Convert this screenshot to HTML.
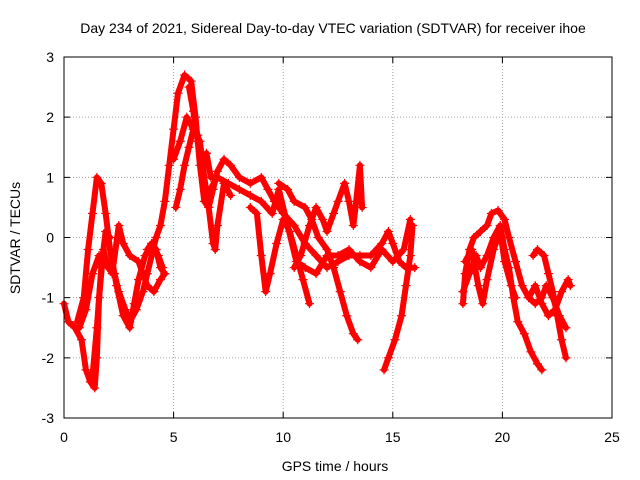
<!DOCTYPE html>
<html><head><meta charset="utf-8"><style>
body{margin:0;background:#fff}
svg{display:block;font-family:"Liberation Sans",sans-serif}
</style></head><body>
<svg id="chart" width="640" height="480" viewBox="0 0 640 480">
<text x="333" y="33" font-size="14" text-anchor="middle">Day 234 of 2021, Sidereal Day-to-day VTEC variation (SDTVAR) for receiver ihoe</text>
<g id="grid"></g>
<g id="axes"></g>
<g id="marks"></g>
<rect x="64" y="57" width="548" height="361" fill="none" stroke="#000" stroke-width="1"/>
<text x="335" y="471" font-size="14" text-anchor="middle">GPS time / hours</text>
<text transform="translate(20,238) rotate(-90)" font-size="14" text-anchor="middle">SDTVAR / TECUs</text>
</svg>
<script>
const xTicks=[0,5,10,15,20,25];
const yTicks=[-3,-2,-1,0,1,2,3];
const track1=[[0,-1.1],[0.2,-1.4],[0.5,-1.5],[0.8,-1.7],[1.0,-2.2],[1.2,-2.4],[1.4,-2.5],[1.5,-2.0],[1.6,-1.0],[1.8,-0.2],[2.0,-0.5],[2.3,-0.6],[2.5,-0.9],[2.8,-1.2],[3.0,-1.4],[3.3,-1.2],[3.6,-0.9],[3.8,-0.6],[4.0,-0.3],[4.2,0],[4.4,0.2],[4.6,0.6],[4.8,1.2],[5.0,1.8],[5.2,2.4],[5.5,2.7],[5.8,2.6],[6.0,2.0],[6.2,1.2],[6.4,0.6],[6.6,0.5],[6.8,0.8],[7.0,1.1],[7.3,1.3],[7.6,1.2],[8.0,1.0],[8.5,0.9],[9.0,1.0],[9.3,0.8],[9.6,0.6],[10.0,0.4],[10.5,0.2],[11.0,-0.1],[11.5,-0.3],[12.0,-0.5],[12.5,-0.4],[13.0,-0.3],[13.5,-0.3],[14.0,-0.3],[14.5,-0.1],[14.8,0.1],[15.0,-0.1],[15.3,-0.4],[15.6,-0.5],[16.0,-0.5]];
const track2=[[0.6,-1.4],[0.9,-1.0],[1.1,-0.2],[1.3,0.4],[1.5,1.0],[1.7,0.9],[1.9,0.4],[2.1,-0.2],[2.4,-0.8],[2.7,-1.3],[3.0,-1.5],[3.2,-1.1],[3.4,-0.7],[3.7,-0.3],[4.0,-0.1],[4.3,-0.3],[4.5,-0.5]];
const track3=[[0.7,-1.5],[1.0,-1.2],[1.3,-0.6],[1.6,-0.3],[1.9,-0.4],[2.2,-0.6],[2.5,0.2],[2.7,-0.1],[3.0,-0.3],[3.4,-0.4],[3.8,-0.8],[4.1,-0.9],[4.4,-0.7],[4.6,-0.6]];
const track4=[[1.3,-2.3],[1.5,-1.5],[1.7,-0.5],[1.9,0.1],[2.1,0.0]];
const track5=[[5.0,1.3],[5.3,1.6],[5.6,2.0],[5.9,1.8],[6.2,1.6],[6.4,1.0],[6.6,0.5],[6.8,-0.1],[6.9,-0.2],[7.0,0.2],[7.3,0.9],[7.6,0.7]];
const track6=[[5.1,0.5],[5.3,0.8],[5.5,1.2],[5.7,1.5],[5.9,1.8],[6.1,1.7],[6.3,1.3]];
const track7=[[8.5,0.5],[8.8,0.4],[9.0,-0.3],[9.2,-0.9],[9.4,-0.6],[9.7,-0.1],[10.0,0.3],[10.3,0.1],[10.6,-0.3],[10.9,-0.7],[11.2,-1.1]];
const track8=[[9.8,0.9],[10.2,0.8],[10.5,0.6],[11.0,0.5],[11.3,0.3],[11.6,0.0],[12.0,-0.2],[12.3,-0.5],[12.6,-0.9],[12.9,-1.3],[13.2,-1.6],[13.4,-1.7]];
const track9=[[10.5,-0.5],[10.8,-0.3],[11.2,0.2],[11.5,0.5],[11.8,0.3],[12.0,0.1],[12.3,0.4],[12.5,0.6],[12.8,0.9],[13.0,0.6],[13.2,0.2],[13.3,0.5],[13.5,1.2],[13.6,0.5]];
const track10=[[14.6,-2.2],[14.8,-2.0],[15.1,-1.7],[15.4,-1.3],[15.6,-0.8],[15.8,-0.3],[15.9,0.2]];
const track11=[[18.2,-1.1],[18.3,-0.6],[18.5,-0.2],[18.7,0.0],[19.0,0.1],[19.3,0.2],[19.5,0.4],[19.8,0.45],[20.1,0.3],[20.3,0.0],[20.6,-0.4],[20.9,-0.8],[21.2,-1.0],[21.5,-1.1],[21.8,-1.0],[22.0,-0.8],[22.3,-1.0],[22.6,-1.3],[22.9,-1.5]];
const track12=[[18.2,-0.9],[18.5,-0.6],[18.8,-0.3],[19.0,-0.5],[19.3,-0.3],[19.6,0.0],[19.9,0.2],[20.1,-0.2],[20.3,-0.5],[20.5,-1.0],[20.7,-1.4],[21.0,-1.6],[21.3,-1.9],[21.6,-2.1],[21.8,-2.2]];
const track13=[[18.3,-0.4],[18.6,-0.2],[18.9,-0.8],[19.1,-1.1],[19.3,-0.7],[19.6,-0.2],[19.9,0.1],[20.1,-0.4],[20.4,-0.8],[20.6,-1.0]];
const track14=[[21.4,-0.3],[21.6,-0.2],[21.9,-0.3],[22.1,-0.6],[22.3,-0.9],[22.5,-1.3],[22.7,-1.7],[22.9,-2.0]];
const track15=[[21.2,-1.0],[21.5,-0.8],[21.8,-1.1],[22.1,-1.3],[22.4,-1.2],[22.7,-0.9],[23.0,-0.7],[23.1,-0.8]];
const track16=[[6.5,0.7],[7.0,1.0],[7.5,0.9],[8.0,0.8],[8.5,0.7],[9.0,0.6],[9.5,0.4],[9.8,0.8],[10.2,0.2],[10.6,-0.4],[11.0,-0.5],[11.5,-0.6],[12.0,-0.3],[12.5,-0.3],[13.0,-0.2],[13.5,-0.4],[14.0,-0.5],[14.5,-0.2],[15.0,-0.4],[15.5,-0.2],[15.8,0.3]];
const track17=[[3.8,-0.2],[4.0,-0.1],[4.2,-0.2],[4.4,-0.5],[4.6,-0.6]];
const track18=[[5.7,2.5],[5.9,2.1],[6.1,1.6],[6.3,1.3],[6.5,1.4],[6.7,1.0]];
const tracks=[track1,track2,track3,track4,track5,track6,track7,track8,track9,track10,track11,track12,track13,track14,track15,track16,track17,track18];

const X0=64,X1=612,Y0=418,Y1=57;
function xs(t){return X0+(t-0)/(25-0)*(X1-X0);}
function ys(v){return Y0-(v+3)/6*(Y0-Y1);}
const NS='http://www.w3.org/2000/svg';
const grid=document.getElementById('grid'),axes=document.getElementById('axes'),marks=document.getElementById('marks');
function mk(tag,attrs,parent){const e=document.createElementNS(NS,tag);for(const k in attrs)e.setAttribute(k,attrs[k]);parent.appendChild(e);return e;}
xTicks.forEach(t=>{
  const x=xs(t);
  if(t>0&&t<25){const g=mk('line',{x1:x,x2:x,y1:Y1,y2:Y0,stroke:'#a0a0a0','stroke-dasharray':'1,2'},grid);
  
  }
  const tk=mk('path',{d:`M${x},${Y0}v-6M${x},${Y1}v6`,stroke:'#000'},axes);
  
  
  const l=mk('text',{x:x,y:Y0+24,'font-size':14,'text-anchor':'middle'},axes);l.textContent=t;
  
  
});
yTicks.forEach(v=>{
  const y=ys(v);
  if(v>-3&&v<3){const g=mk('line',{x1:X0,x2:X1,y1:y,y2:y,stroke:'#a0a0a0','stroke-dasharray':'1,2'},grid);
  
  }
  const tk=mk('path',{d:`M${X0},${y}h6M${X1},${y}h-6`,stroke:'#000'},axes);
  
  
  const l=mk('text',{x:X0-10,y:y+5,'font-size':14,'text-anchor':'end'},axes);l.textContent=v;
  
  
});
tracks.forEach((tr,i)=>{
  const pts=tr.map(p=>xs(p[0])+','+ys(p[1])).join(' ');
  const pl=mk('polyline',{points:pts,fill:'none',stroke:'#f00','stroke-width':6,'stroke-linejoin':'round','stroke-linecap':'round'},marks);
  
  
  tr.forEach(p=>{
    const x=xs(p[0]),y=ys(p[1]);
    const m=mk('path',{d:`M${x-4.5},${y}h9M${x},${y-4.5}v9`,stroke:'#f00','stroke-width':1.2},marks);
    
    
  });
});
</script>
</body></html>
